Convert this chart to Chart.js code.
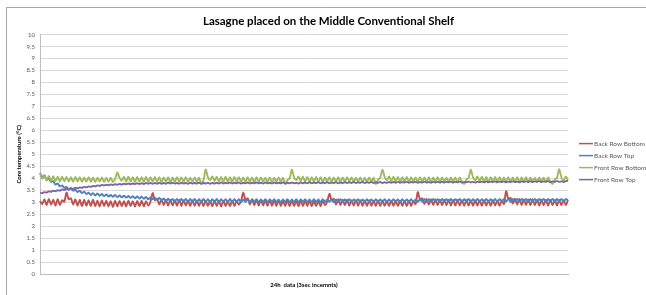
<!DOCTYPE html>
<html>
<head>
<meta charset="utf-8">
<script src="https://cdn.jsdelivr.net/npm/chart.js@4"></script>
<style>
  body { margin: 0; background: #fff; }
</style>
</head>
<body>
<canvas id="chart" width="646" height="295"></canvas>
<script>
// series names (legend order)
const seriesNames = ["Back Row Bottom", "Back Row Top", "Front Row Bottom", "Front Row Top"];
const seriesColors = ["#c0504d", "#4f81bd", "#9bbb59", "#8064a2"];

// y axis ticks: 0 .. 10 step 0.5
const yTicks = [0, 0.5, 1, 1.5, 2, 2.5, 3, 3.5, 4, 4.5, 5, 5.5, 6, 6.5, 7, 7.5, 8, 8.5, 9, 9.5, 10];

// readings (3sec increments over 24h, resampled)
const backRowBottom = [
  3.05, 2.92, 3.12, 2.88, 3.14, 2.9, 3.1, 2.86, 3.12, 2.88,
  3.08, 3.02, 3.4, 3.12, 3.16, 2.9, 3.12, 2.86, 3.1, 2.84,
  3.1, 2.85, 3.08, 2.84, 3.1, 2.83, 3.06, 2.82, 3.08, 2.84,
  3.06, 2.82, 3.04, 2.8, 3.06, 2.82, 3.05, 2.83, 3.04, 2.82,
  3.06, 2.84, 3.04, 2.82, 3.05, 2.83, 3.06, 2.82, 3.04, 2.86,
  3.02, 3.38, 3.08, 3.14, 2.9, 3.12, 2.88, 3.1, 2.86, 3.1,
  2.86, 3.08, 2.85, 3.1, 2.84, 3.08, 2.86, 3.06, 2.84, 3.08,
  2.85, 3.06, 2.84, 3.07, 2.83, 3.06, 2.84, 3.05, 2.83, 3.06,
  2.84, 3.05, 2.82, 3.06, 2.84, 3.04, 2.83, 3.06, 2.84, 3.05,
  2.9, 3.05, 3.4, 3.1, 3.16, 2.9, 3.12, 2.87, 3.1, 2.86,
  3.1, 2.86, 3.08, 2.85, 3.09, 2.85, 3.07, 2.84, 3.08, 2.84,
  3.06, 2.84, 3.07, 2.83, 3.06, 2.84, 3.05, 2.83, 3.06, 2.84,
  3.05, 2.84, 3.06, 2.83, 3.04, 2.84, 3.05, 2.83, 3.06, 2.88,
  3.02, 3.35, 3.08, 3.14, 2.9, 3.12, 2.88, 3.1, 2.87, 3.1,
  2.86, 3.08, 2.86, 3.09, 2.85, 3.08, 2.85, 3.07, 2.84, 3.08,
  2.85, 3.06, 2.84, 3.07, 2.84, 3.06, 2.85, 3.05, 2.84, 3.06,
  2.85, 3.05, 2.84, 3.06, 2.85, 3.05, 2.84, 3.06, 2.85, 3.04,
  2.92, 3.42, 3.12, 3.16, 2.92, 3.14, 2.9, 3.12, 2.88, 3.12,
  2.88, 3.1, 2.87, 3.11, 2.87, 3.1, 2.86, 3.09, 2.86, 3.1,
  2.86, 3.08, 2.85, 3.09, 2.86, 3.08, 2.85, 3.08, 2.86, 3.07,
  2.85, 3.08, 2.86, 3.07, 2.85, 3.08, 2.86, 3.06, 2.85, 3.07,
  2.92, 3.46, 3.14, 3.18, 2.94, 3.15, 2.9, 3.13, 2.88, 3.12,
  2.88, 3.11, 2.87, 3.12, 2.87, 3.1, 2.86, 3.11, 2.87, 3.1,
  2.86, 3.1, 2.87, 3.09, 2.86, 3.1, 2.87, 3.08, 2.88, 3.1
];

const backRowTop = [
  4.22, 4.05, 4.12, 3.95, 3.98, 3.85, 3.88, 3.74, 3.78, 3.66,
  3.7, 3.6, 3.64, 3.52, 3.58, 3.48, 3.52, 3.42, 3.48, 3.38,
  3.44, 3.34, 3.4, 3.3, 3.38, 3.28, 3.36, 3.27, 3.34, 3.25,
  3.32, 3.24, 3.3, 3.22, 3.3, 3.21, 3.28, 3.2, 3.27, 3.19,
  3.26, 3.18, 3.25, 3.16, 3.24, 3.15, 3.23, 3.14, 3.22, 3.12,
  3.2, 3.12, 3.19, 3.1, 3.18, 3.06, 3.16, 3.04, 3.15, 3.03,
  3.14, 3.02, 3.14, 3.01, 3.13, 3.02, 3.14, 3.01, 3.13, 3.0,
  3.13, 3.01, 3.12, 3.0, 3.13, 3.01, 3.12, 3.0, 3.12, 3.01,
  3.13, 3.0, 3.12, 3.01, 3.12, 3.0, 3.13, 3.01, 3.12, 3.02,
  3.12, 3.0, 3.11, 3.01, 3.12, 3.0, 3.11, 3.02, 3.12, 3.0,
  3.11, 3.01, 3.12, 3.0, 3.11, 3.02, 3.12, 3.01, 3.1, 3.0,
  3.11, 3.01, 3.12, 3.0, 3.11, 3.01, 3.12, 3.0, 3.11, 3.02,
  3.12, 3.01, 3.11, 3.0, 3.12, 3.01, 3.11, 3.0, 3.12, 3.01,
  3.11, 3.02, 3.12, 3.0, 3.11, 3.01, 3.12, 3.02, 3.11, 3.0,
  3.12, 3.01, 3.11, 3.02, 3.12, 3.0, 3.11, 3.01, 3.12, 3.02,
  3.11, 3.0, 3.12, 3.01, 3.11, 3.02, 3.12, 3.0, 3.11, 3.01,
  3.12, 3.02, 3.11, 3.0, 3.12, 3.01, 3.11, 3.02, 3.12, 3.01,
  3.11, 3.02, 3.12, 3.03, 3.13, 3.02, 3.12, 3.03, 3.13, 3.02,
  3.12, 3.03, 3.13, 3.02, 3.12, 3.03, 3.13, 3.02, 3.12, 3.03,
  3.13, 3.02, 3.12, 3.03, 3.13, 3.02, 3.12, 3.03, 3.13, 3.02,
  3.12, 3.03, 3.13, 3.02, 3.12, 3.03, 3.13, 3.02, 3.12, 3.03,
  3.13, 3.03, 3.14, 3.02, 3.13, 3.03, 3.14, 3.02, 3.13, 3.03,
  3.14, 3.02, 3.13, 3.03, 3.14, 3.02, 3.13, 3.03, 3.14, 3.02,
  3.13, 3.03, 3.14, 3.02, 3.13, 3.03, 3.14, 3.02, 3.13, 3.08
];

const frontRowBottom = [
  4.22, 3.98, 4.12, 3.9, 4.1, 3.88, 4.08, 3.88, 4.06, 3.86,
  4.06, 3.87, 4.05, 3.86, 4.04, 3.85, 4.05, 3.86, 4.04, 3.85,
  4.03, 3.86, 4.04, 3.85, 4.03, 3.84, 4.02, 3.86, 4.03, 3.84,
  4.02, 3.85, 4.02, 3.84, 3.98, 4.24, 4.02, 3.9, 4.05, 3.86,
  4.06, 3.86, 4.04, 3.85, 4.05, 3.86, 4.04, 3.84, 4.05, 3.85,
  4.04, 3.86, 4.05, 3.85, 4.04, 3.84, 4.03, 3.85, 4.04, 3.82,
  4.03, 3.86, 4.04, 3.85, 4.03, 3.86, 4.04, 3.85, 4.02, 3.86,
  4.03, 3.85, 4.02, 3.77, 3.92, 4.36, 4.05, 3.92, 4.08, 3.88,
  4.06, 3.86, 4.05, 3.85, 4.06, 3.86, 4.04, 3.85, 4.05, 3.86,
  4.04, 3.85, 4.03, 3.86, 4.04, 3.85, 4.03, 3.84, 4.04, 3.85,
  4.03, 3.86, 4.02, 3.85, 4.03, 3.84, 4.02, 3.86, 4.03, 3.85,
  4.02, 3.76, 3.92, 4.0, 4.36, 4.04, 3.92, 4.07, 3.88, 4.06,
  3.86, 4.05, 3.85, 4.04, 3.86, 4.05, 3.85, 4.04, 3.84, 4.03,
  3.86, 4.04, 3.85, 4.03, 3.86, 4.04, 3.84, 4.03, 3.85, 4.04,
  3.86, 4.03, 3.85, 4.02, 3.86, 4.03, 3.84, 4.02, 3.85, 4.03,
  3.86, 4.02, 3.76, 3.94, 4.02, 4.36, 4.05, 3.92, 4.08, 3.88,
  4.06, 3.86, 4.05, 3.85, 4.04, 3.86, 4.05, 3.85, 4.04, 3.86,
  4.03, 3.85, 4.04, 3.86, 4.03, 3.85, 4.04, 3.84, 4.03, 3.86,
  4.04, 3.85, 4.03, 3.86, 4.02, 3.85, 4.03, 3.86, 4.02, 3.84,
  4.03, 3.85, 3.76, 3.94, 4.02, 4.36, 4.04, 3.92, 4.07, 3.88,
  4.06, 3.86, 4.05, 3.85, 4.04, 3.86, 4.05, 3.85, 4.04, 3.86,
  4.03, 3.85, 4.04, 3.86, 4.03, 3.85, 4.04, 3.84, 4.03, 3.86,
  4.04, 3.85, 4.03, 3.86, 4.02, 3.85, 4.03, 3.86, 4.02, 3.84,
  4.03, 3.85, 3.76, 3.94, 4.02, 4.38, 4.04, 3.9, 4.08, 3.92
];

const frontRowTop = [
  3.4, 3.38, 3.42, 3.4, 3.45, 3.43, 3.48, 3.46, 3.5, 3.48,
  3.53, 3.51, 3.56, 3.54, 3.58, 3.56, 3.6, 3.58, 3.62, 3.6,
  3.64, 3.62, 3.66, 3.64, 3.68, 3.66, 3.7, 3.68, 3.72, 3.7,
  3.73, 3.71, 3.74, 3.72, 3.75, 3.73, 3.76, 3.74, 3.77, 3.75,
  3.78, 3.75, 3.78, 3.76, 3.79, 3.76, 3.79, 3.76, 3.8, 3.77,
  3.8, 3.77, 3.8, 3.77, 3.81, 3.77, 3.8, 3.77, 3.81, 3.78,
  3.81, 3.78, 3.8, 3.77, 3.81, 3.78, 3.8, 3.77, 3.81, 3.78,
  3.8, 3.78, 3.81, 3.77, 3.8, 3.78, 3.81, 3.77, 3.8, 3.78,
  3.81, 3.78, 3.82, 3.78, 3.81, 3.79, 3.82, 3.78, 3.81, 3.79,
  3.82, 3.78, 3.81, 3.79, 3.82, 3.78, 3.81, 3.79, 3.82, 3.79,
  3.81, 3.78, 3.82, 3.79, 3.81, 3.78, 3.82, 3.79, 3.81, 3.79,
  3.82, 3.78, 3.81, 3.79, 3.82, 3.79, 3.81, 3.78, 3.82, 3.79,
  3.82, 3.79, 3.83, 3.79, 3.82, 3.8, 3.83, 3.79, 3.82, 3.8,
  3.83, 3.79, 3.82, 3.8, 3.83, 3.79, 3.82, 3.8, 3.83, 3.8,
  3.83, 3.8, 3.84, 3.8, 3.83, 3.81, 3.84, 3.8, 3.83, 3.81,
  3.84, 3.8, 3.83, 3.81, 3.84, 3.8, 3.83, 3.81, 3.84, 3.81,
  3.84, 3.81, 3.85, 3.81, 3.84, 3.82, 3.85, 3.81, 3.84, 3.82,
  3.85, 3.81, 3.84, 3.82, 3.85, 3.82, 3.84, 3.81, 3.85, 3.82,
  3.85, 3.82, 3.86, 3.82, 3.85, 3.83, 3.86, 3.82, 3.85, 3.83,
  3.86, 3.82, 3.85, 3.83, 3.86, 3.83, 3.85, 3.82, 3.86, 3.83,
  3.86, 3.83, 3.87, 3.83, 3.86, 3.84, 3.87, 3.83, 3.86, 3.84,
  3.87, 3.83, 3.86, 3.84, 3.87, 3.84, 3.86, 3.83, 3.87, 3.84,
  3.87, 3.84, 3.88, 3.84, 3.87, 3.85, 3.88, 3.84, 3.87, 3.85,
  3.88, 3.84, 3.87, 3.85, 3.88, 3.85, 3.87, 3.84, 3.88, 3.9
];

const seriesData = [backRowBottom, backRowTop, frontRowBottom, frontRowTop];
const labels = backRowBottom.map((_, i) => i + 1);

const FONT = "Lato, 'Open Sans', sans-serif";

// frame round the chart (the picture is a crop of a bordered excel chart)
const framePlugin = {
  id: "frame",
  beforeDraw(chart) {
    const ctx = chart.ctx;
    ctx.save();
    ctx.fillStyle = "#fff";
    ctx.fillRect(0, 0, chart.width, chart.height);
    ctx.strokeStyle = "#a6a6a6";
    ctx.lineWidth = 1;
    ctx.beginPath();
    ctx.moveTo(6.5, chart.height);
    ctx.lineTo(6.5, 7.5);
    ctx.lineTo(chart.width, 7.5);
    ctx.stroke();
    ctx.restore();
  }
};

// legend drawn at the right, line sample + label
const sideLegend = {
  id: "sideLegend",
  afterDraw(chart) {
    const ctx = chart.ctx;
    const area = chart.chartArea;
    ctx.save();
    ctx.font = "6.5px " + FONT;
    ctx.textBaseline = "middle";
    chart.data.datasets.forEach((ds, i) => {
      const y = area.top + 109 + i * 12;
      ctx.strokeStyle = ds.borderColor;
      ctx.lineWidth = 1.5;
      ctx.beginPath();
      ctx.moveTo(area.right + 11, y);
      ctx.lineTo(area.right + 25, y);
      ctx.stroke();
      ctx.fillStyle = "#595959";
      ctx.fillText(ds.label, area.right + 26, y);
    });
    ctx.restore();
  }
};

new Chart(document.getElementById("chart"), {
  type: "line",
  data: {
    labels: labels,
    datasets: seriesNames.map((name, i) => ({
      label: name,
      data: seriesData[i],
      borderColor: seriesColors[i],
      backgroundColor: seriesColors[i],
      borderWidth: 1.9,
      pointRadius: 0,
      tension: 0.3,
      order: seriesNames.length - i
    }))
  },
  options: {
    responsive: false,
    animation: false,
    devicePixelRatio: 1,
    layout: { padding: { left: 12, right: 1, top: 8, bottom: 6.8 } },
    plugins: {
      legend: { display: false },
      tooltip: { enabled: false },
      title: {
        display: true,
        text: "Lasagne placed on the Middle Conventional Shelf",
        color: "#000",
        font: { family: FONT, size: 11.5, weight: "bold" },
        padding: { top: 6.3, bottom: 6.5 }
      }
    },
    scales: {
      x: {
        type: "category",
        grid: { display: false, drawTicks: false },
        border: { color: "#bfbfbf" },
        ticks: { display: false },
        title: {
          display: true,
          text: "24h  data (3sec incemnts)",
          color: "#000",
          font: { family: FONT, size: 6, weight: "bold" },
          padding: { top: 7, bottom: 0 }
        }
      },
      y: {
        min: 0,
        max: 10,
        afterBuildTicks(scale) {
          scale.ticks = yTicks.map(v => ({ value: v }));
        },
        afterFit(scale) { scale.width = 28; },
        grid: { color: "#d9d9d9", drawTicks: false },
        border: { color: "#bfbfbf" },
        ticks: {
          color: "#595959",
          font: { family: FONT, size: 6 },
          padding: 5,
          callback: (v) => String(v)
        },
        title: {
          display: true,
          text: "Core temperature (°C)",
          color: "#000",
          font: { family: FONT, size: 6, weight: "bold" },
          padding: { top: 3, bottom: 0 }
        }
      },
      side: {
        type: "linear",
        position: "right",
        display: true,
        afterFit(scale) { scale.width = 77; },
        grid: { display: false, drawTicks: false },
        border: { display: false },
        ticks: { display: false }
      }
    }
  },
  plugins: [framePlugin, sideLegend]
});
</script>
</body>
</html>
